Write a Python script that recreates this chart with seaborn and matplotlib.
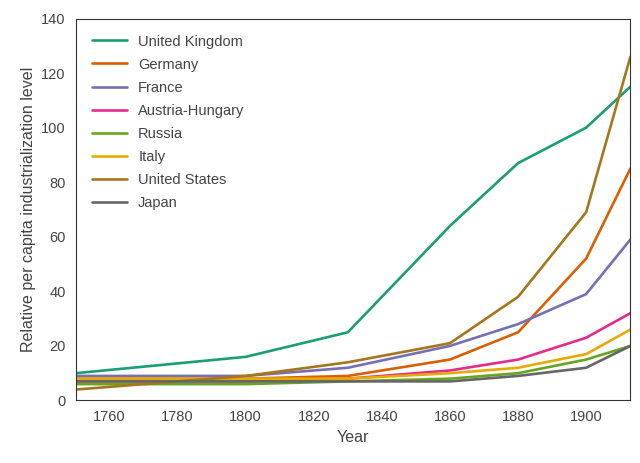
import pandas as pd
import matplotlib.pyplot as plt
import seaborn as sns

# Bairoch per capita industrialization levels (UK in 1900 = 100)
years = [1750, 1800, 1830, 1860, 1880, 1900, 1913]
uk = [10, 16, 25, 64, 87, 100, 115]
germany = [8, 8, 9, 15, 25, 52, 85]
france = [9, 9, 12, 20, 28, 39, 59]
austria = [7, 7, 8, 11, 15, 23, 32]
russia = [6, 6, 7, 8, 10, 15, 20]
italy = [8, 8, 8, 10, 12, 17, 26]
usa = [4, 9, 14, 21, 38, 69, 126]
japan = [7, 7, 7, 7, 9, 12, 20]

countries = {
    'United Kingdom': uk,
    'Germany': germany,
    'France': france,
    'Austria-Hungary': austria,
    'Russia': russia,
    'Italy': italy,
    'United States': usa,
    'Japan': japan,
}

df = pd.DataFrame(countries, index=years)
df.index.name = 'Year'
long_df = df.reset_index().melt(id_vars='Year', var_name='Country', value_name='Level')

sns.set_style("white")
plt.rcParams['font.family'] = ['Liberation Sans', 'DejaVu Sans']

fig, ax = plt.subplots(figsize=(6.4, 4.63), dpi=100)
sns.lineplot(data=long_df, x='Year', y='Level', hue='Country',
             palette='Dark2', linewidth=1.9, ax=ax)
ax.set_xlim(1750, 1913)
ax.set_ylim(0, 140)
ax.set_xlabel('Year', fontsize=11.5, color='#444444')
ax.set_ylabel('Relative per capita industrialization level', fontsize=11.5, color='#444444')
ax.tick_params(labelsize=10.5, colors='#444444')
for s in ax.spines.values():
    s.set_color('#333333')
leg = ax.legend(loc='upper left', frameon=False, fontsize=10.5,
                handlelength=2.4, labelspacing=0.62, borderaxespad=0.7)
for t in leg.get_texts():
    t.set_color('#444444')
fig.subplots_adjust(left=0.118, right=0.985, top=0.96, bottom=0.135)
fig.savefig('out.png', dpi=100)
